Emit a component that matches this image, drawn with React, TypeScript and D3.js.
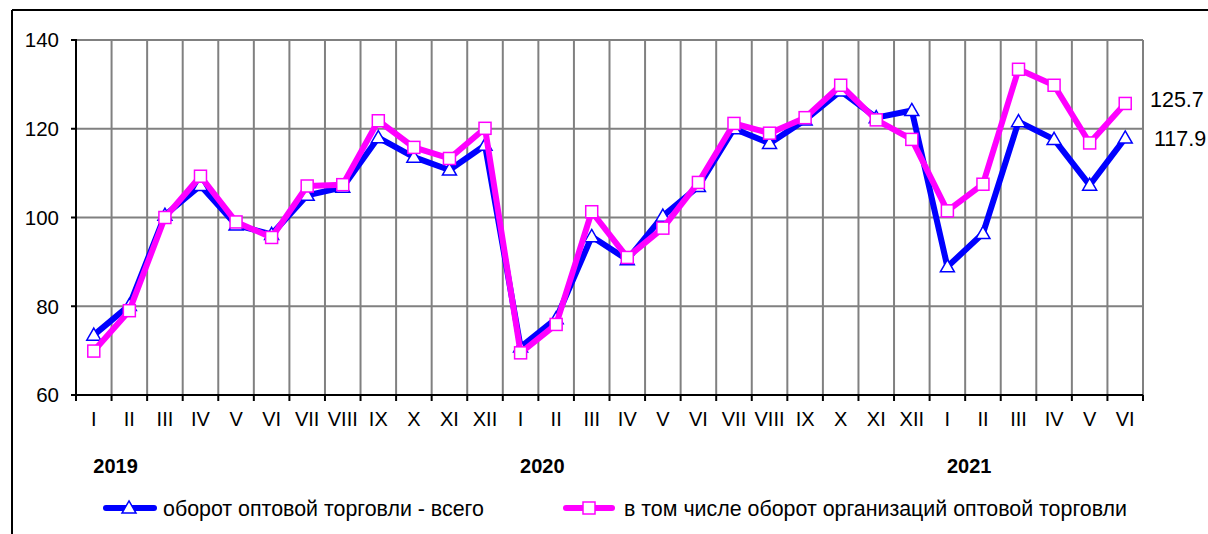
import React from "react";
import { scaleBand, scaleLinear, line, symbol, symbolTriangle } from "d3";

// month labels, three years of monthly data (2019 - mid 2021)
const months = [
  "I", "II", "III", "IV", "V", "VI", "VII", "VIII", "IX", "X", "XI", "XII",
  "I", "II", "III", "IV", "V", "VI", "VII", "VIII", "IX", "X", "XI", "XII",
  "I", "II", "III", "IV", "V", "VI",
];
const years = ["2019", "2020", "2021"];
const yearStart = [0, 12, 24];

// оборот оптовой торговли - всего
const total = [
  73.5, 80.2, 100.5, 107.2, 98.3, 96.2, 105, 106.8, 118, 113.6, 110.7, 116.3,
  70.8, 77.2, 95.7, 90.5, 100.3, 107, 120, 116.7, 122, 128.5, 122.5, 124.1,
  88.9, 96.4, 121.6, 117.6, 107.3, 117.9,
];
// в том числе оборот организаций оптовой торговли
const org = [
  69.9, 79, 100, 109.3, 99, 95.5, 107.1, 107.4, 121.8, 115.8, 113.3, 120.1,
  69.5, 75.9, 101.3, 91, 97.6, 107.9, 121.2, 119, 122.5, 129.8, 122, 117.6,
  101.5, 107.5, 133.4, 129.8, 116.8, 125.7,
];
const yTicks = [60, 80, 100, 120, 140];

const seriesNames = [
  "оборот оптовой торговли - всего",
  "в том числе оборот организаций оптовой торговли",
];
const BLUE = "#0000ff";
const PINK = "#ff00ff";
const GRID = "#808080";
const FONT = "'Liberation Sans', Arial, sans-serif";

export default function App() {
  const left = 76;
  const right = 1143;
  const top = 40;
  const bottom = 395;

  const x = scaleBand<number>()
    .domain(months.map((_, i) => i))
    .range([left, right])
    .padding(0);
  const y = scaleLinear().domain([60, 140]).range([bottom, top]);
  const cx = (i: number) => (x(i) as number) + x.bandwidth() / 2;

  const lineGen = line<number>()
    .x((_, i) => cx(i))
    .y((d) => y(d));

  const tri = symbol().type(symbolTriangle).size(85)() as string;
  const sq = 12;

  // band edges = vertical gridlines and x ticks
  const boundaries = months.map((_, i) => x(i) as number).concat([right]);

  const triMarker = (px: number, py: number, key: string) => (
    <path
      key={key}
      d={tri}
      transform={`translate(${px},${py + 1})`}
      fill="#fff"
      stroke={BLUE}
      strokeWidth={1.5}
    />
  );
  const sqMarker = (px: number, py: number, key: string) => (
    <rect
      key={key}
      x={px - sq / 2}
      y={py - sq / 2}
      width={sq}
      height={sq}
      fill="#fff"
      stroke={PINK}
      strokeWidth={1.5}
    />
  );

  return (
    <div style={{ position: "absolute", left: 0, top: 0 }}>
      <svg width={1208} height={534} style={{ display: "block" }} fontFamily={FONT}>
        <rect width={1208} height={534} fill="#fff" />
        {/* outer frame */}
        <line x1={12} x2={1208} y1={10} y2={10} stroke="#000" strokeWidth={2} />
        <line x1={12} x2={12} y1={10} y2={534} stroke="#000" strokeWidth={2} />

        {/* grid */}
        {yTicks.slice(1).map((t) => (
          <line key={"h" + t} x1={left} x2={right} y1={y(t)} y2={y(t)} stroke={GRID} strokeWidth={2} />
        ))}
        {boundaries.slice(1).map((bx, i) => (
          <line key={"v" + i} x1={bx} x2={bx} y1={top} y2={bottom} stroke={GRID} strokeWidth={2} />
        ))}

        {/* axes */}
        <line x1={left} x2={left} y1={top - 1} y2={bottom} stroke="#000" strokeWidth={2} />
        <line x1={left - 5} x2={right} y1={bottom} y2={bottom} stroke="#000" strokeWidth={2} />
        {yTicks.map((t) => (
          <g key={"yt" + t}>
            <line x1={left - 5} x2={left} y1={y(t)} y2={y(t)} stroke="#000" strokeWidth={2} />
            <text x={59} y={y(t)} dy="0.36em" textAnchor="end" fontSize={20.5}>
              {t}
            </text>
          </g>
        ))}
        {boundaries.map((bx, i) => (
          <line key={"xt" + i} x1={bx} x2={bx} y1={bottom} y2={bottom + 6} stroke="#000" strokeWidth={2} />
        ))}
        {months.map((m, i) => (
          <text key={"m" + i} x={cx(i)} y={426} textAnchor="middle" fontSize={20}>
            {m}
          </text>
        ))}
        {years.map((yr, i) => (
          <text
            key={yr}
            x={(x(yearStart[i] + 1) as number) + 4}
            y={473}
            textAnchor="middle"
            fontSize={20}
            fontWeight="bold"
          >
            {yr}
          </text>
        ))}

        {/* series */}
        <path d={lineGen(total) as string} fill="none" stroke={BLUE} strokeWidth={6} strokeLinejoin="round" />
        {total.map((v, i) => triMarker(cx(i), y(v), "t" + i))}
        <path d={lineGen(org) as string} fill="none" stroke={PINK} strokeWidth={6} strokeLinejoin="round" />
        {org.map((v, i) => sqMarker(cx(i), y(v), "s" + i))}

        {/* end labels */}
        <text x={1150} y={y(org[org.length - 1]) - 4} dy="0.36em" fontSize={21.5}>
          {org[org.length - 1].toFixed(1)}
        </text>
        <text x={1154} y={138} dy="0.36em" fontSize={21.5}>
          {total[total.length - 1].toFixed(1)}
        </text>

        {/* legend */}
        <line x1={106} x2={154} y1={508} y2={508} stroke={BLUE} strokeWidth={6} strokeLinecap="round" />
        {triMarker(129, 508, "lt")}
        <text x={163} y={508} dy="0.36em" fontSize={21.4}>
          {seriesNames[0]}
        </text>
        <line x1={566} x2={612} y1={508} y2={508} stroke={PINK} strokeWidth={6} strokeLinecap="round" />
        {sqMarker(589, 508, "ls")}
        <text x={624} y={508} dy="0.36em" fontSize={21.4}>
          {seriesNames[1]}
        </text>
      </svg>
    </div>
  );
}
